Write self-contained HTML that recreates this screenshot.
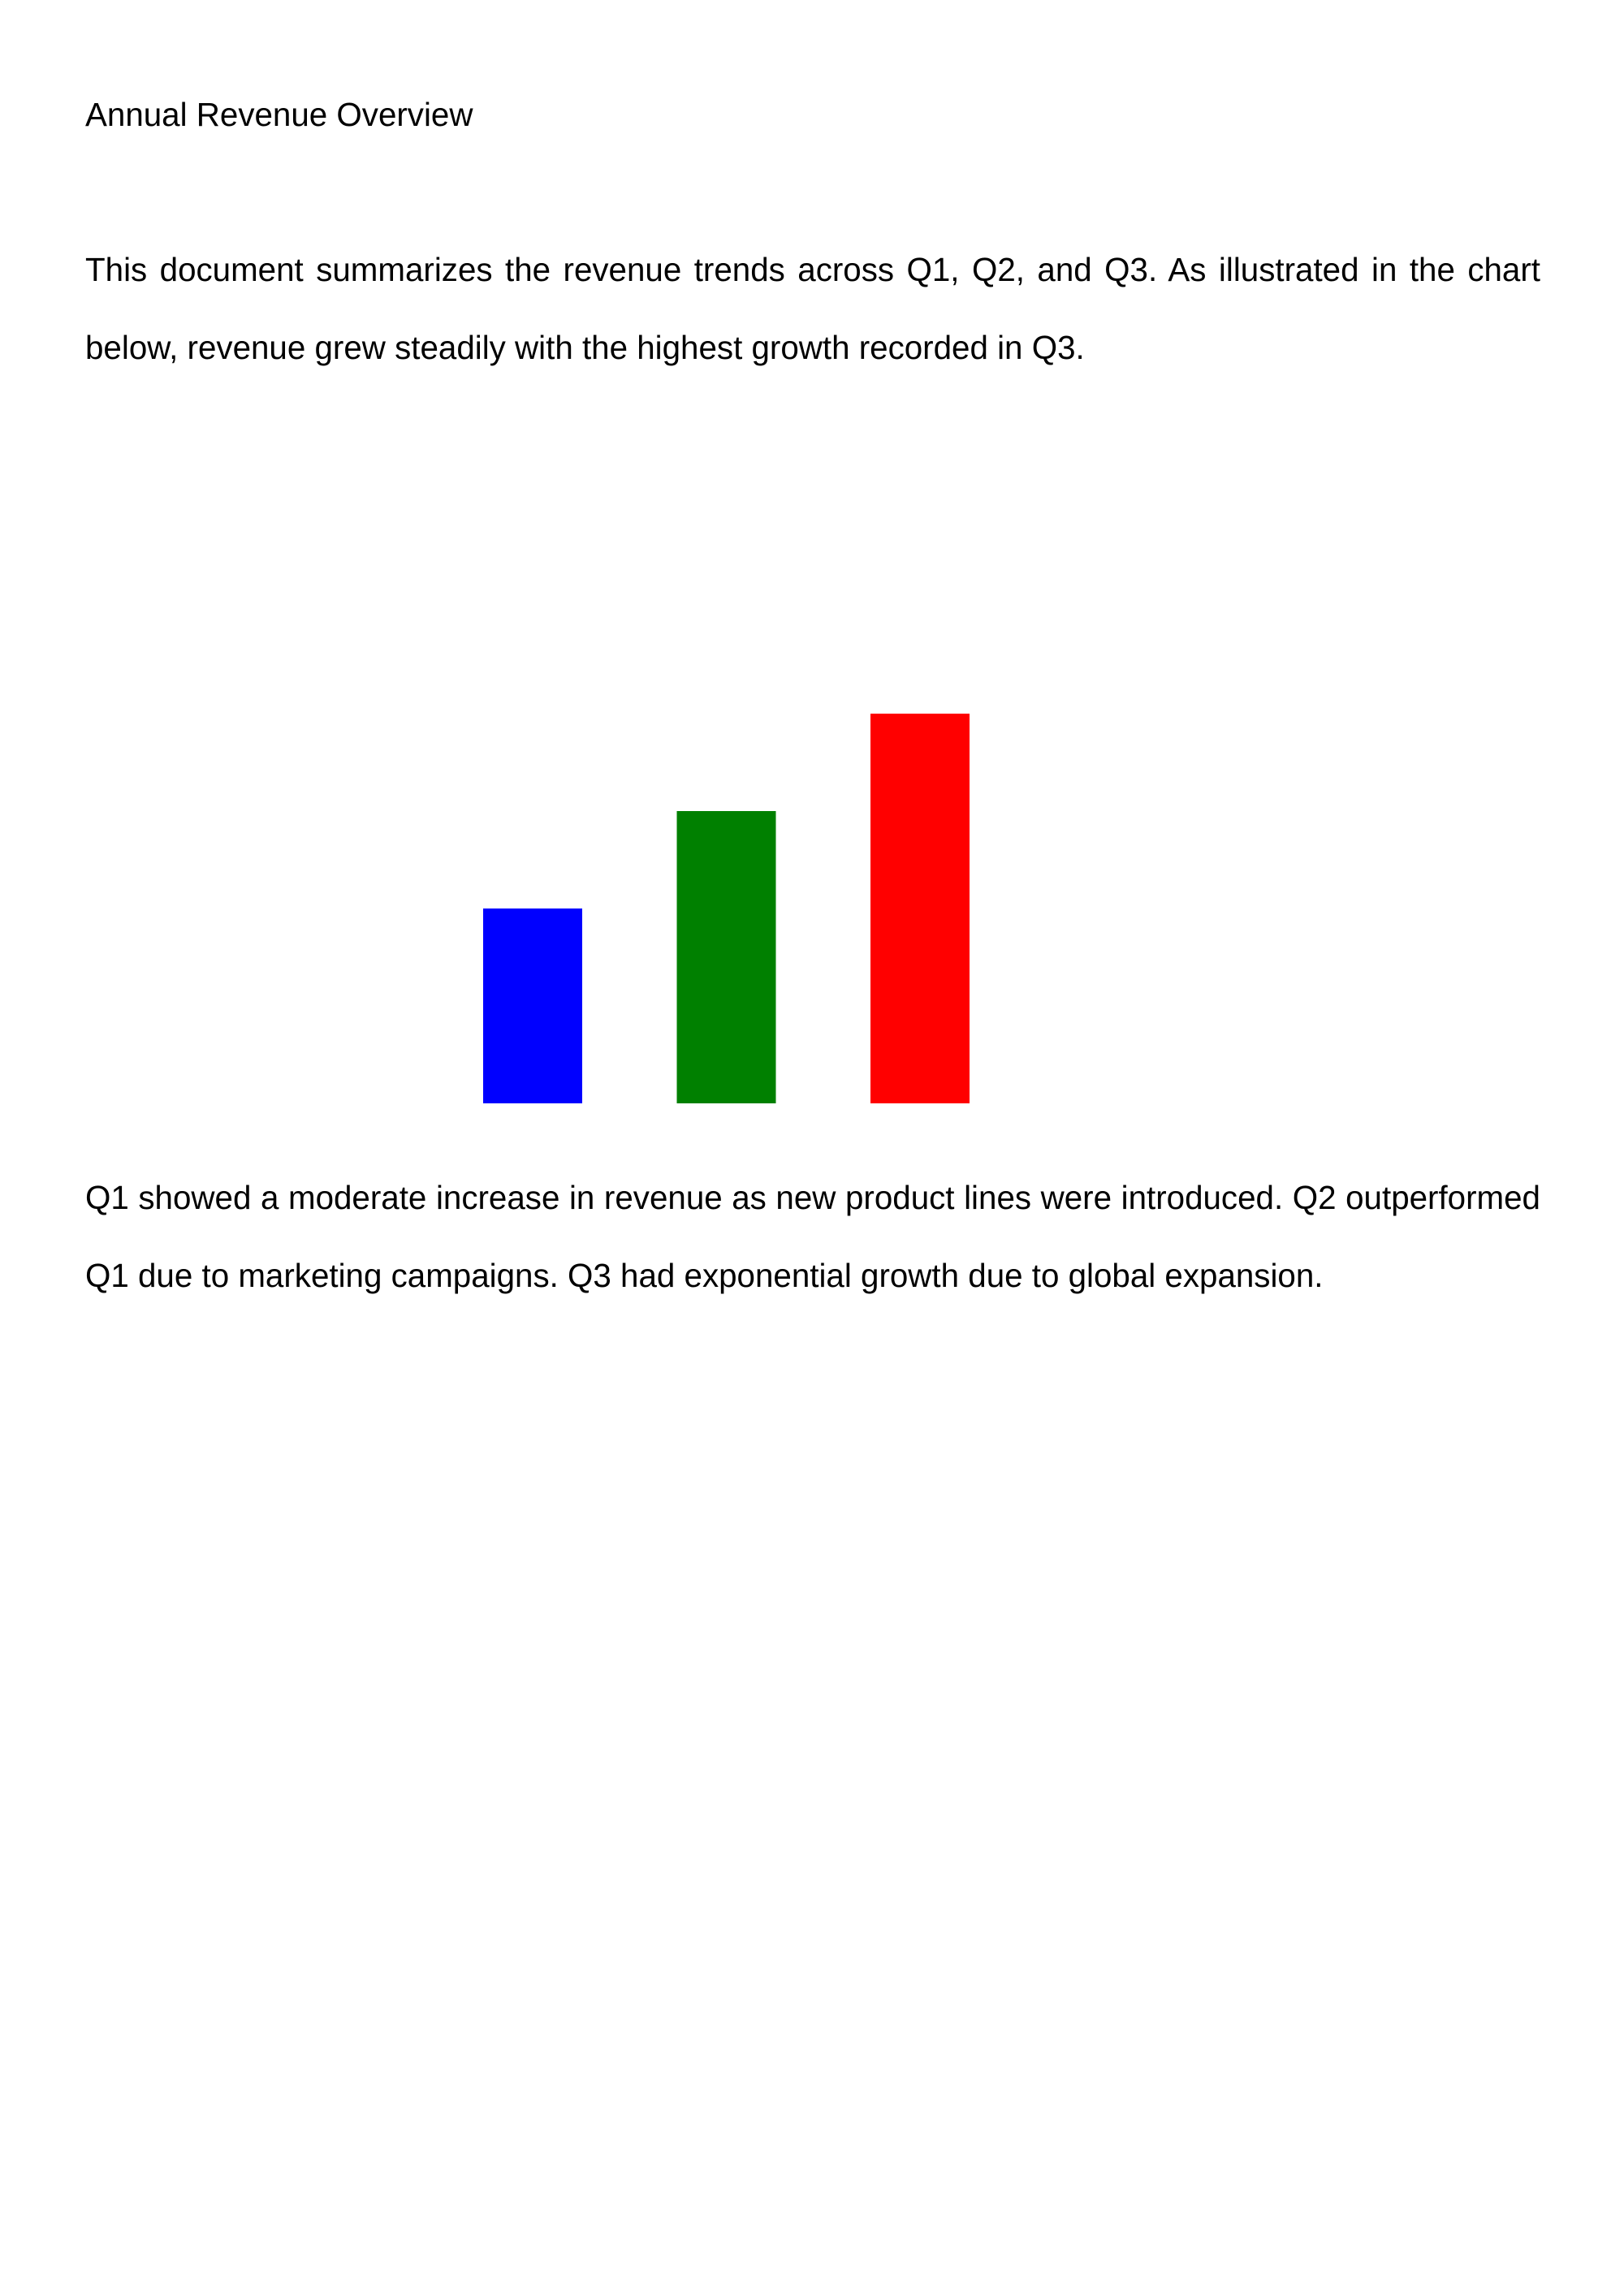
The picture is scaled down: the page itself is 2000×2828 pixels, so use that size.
<!DOCTYPE html>
<html><head><meta charset="utf-8"><style>
html,body{margin:0;padding:0;background:#fff;}
body{width:2000px;height:2828px;position:relative;overflow:hidden;font-family:"Liberation Sans",Arial,sans-serif;color:#000;}
.t{position:absolute;left:105px;width:1792px;font-size:40.35px;line-height:96px;text-align:justify;}
</style></head><body>
<div class="t" style="top:93px">Annual Revenue Overview</div>
<div class="t" style="top:284px">This document summarizes the revenue trends across Q1, Q2, and Q3. As illustrated in the chart below, revenue grew steadily with the highest growth recorded in Q3.</div>
<svg id="chart" style="position:absolute;left:0;top:0" width="2000" height="2828"></svg>
<div class="t" style="top:1427px">Q1 showed a moderate increase in revenue as new product lines were introduced. Q2 outperformed Q1 due to marketing campaigns. Q3 had exponential growth due to global expansion.</div>
<script>
const categories = ["Q1","Q2","Q3"];
const revenue = [50,75,100];
const colors = ["#0000ff","#008000","#ff0000"];
const svg = document.getElementById('chart');
const baseY = 1359, pxPerUnit = 4.8, x0 = 595, step = 238.5, barW = 122;
function xPos(i){ return x0 + i*step; }
function yPos(v){ return baseY - v*pxPerUnit; }
categories.forEach((c,i)=>{
  const r = document.createElementNS('http://www.w3.org/2000/svg','rect');
  r.setAttribute('x', xPos(i));
  r.setAttribute('y', yPos(revenue[i]));
  r.setAttribute('width', barW);
  r.setAttribute('height', baseY - yPos(revenue[i]));
  r.setAttribute('fill', colors[i]);
  
  
  svg.appendChild(r);
});
</script>
</body></html>
